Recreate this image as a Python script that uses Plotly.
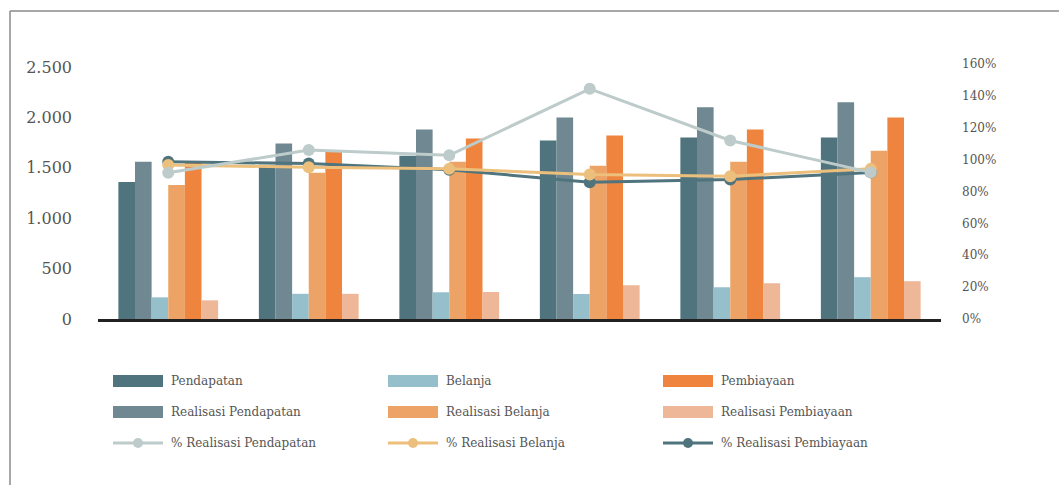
import plotly.graph_objects as go

# ---------------- data ----------------
categories = ["1", "2", "3", "4", "5", "6"]

pendapatan = [1360, 1530, 1620, 1770, 1800, 1800]
realisasi_pendapatan = [1560, 1740, 1880, 2000, 2100, 2150]
belanja = [215, 250, 265, 248, 315, 415]
realisasi_belanja = [1330, 1450, 1560, 1520, 1560, 1670]
pembiayaan = [1555, 1670, 1790, 1820, 1880, 2000]
realisasi_pembiayaan = [185, 250, 268, 335, 355, 375]

pct_real_pendapatan = [91.7, 106.0, 102.7, 144.4, 112.0, 92.0]
pct_real_belanja = [96.7, 95.2, 94.2, 90.6, 89.6, 94.2]
pct_real_pembiayaan = [98.7, 97.5, 93.7, 85.8, 87.5, 92.0]

left_ticks = [0, 500, 1000, 1500, 2000, 2500]
left_ticktext = ["0", "500", "1.000", "1.500", "2.000", "2.500"]
right_ticks = [0, 20, 40, 60, 80, 100, 120, 140, 160]
right_ticktext = ["0%", "20%", "40%", "60%", "80%", "100%", "120%", "140%", "160%"]

# ---------------- styles ----------------
C_PEND = "#4f747d"
C_RPEND = "#6f8891"
C_BEL = "#96bfcc"
C_RBEL = "#eca365"
C_PEMB = "#ee843d"
C_RPEMB = "#eeb798"
C_PCT_PEND = "#bdcccb"
C_PCT_BEL = "#ecbf7c"
C_PCT_PEMB = "#4f747d"

W, H = 1059, 485
ML, MR, MT, MB = 98, 118, 64, 166
PW = W - ML - MR
PH = H - MT - MB

FONT = "DejaVu Serif"
TXT = "#555555"


def px(x):
    return (x - ML) / PW


def py(y):
    return (H - MB - y) / PH


fig = go.Figure()

bar_series = [
    ("Pendapatan", pendapatan, C_PEND),
    ("Realisasi Pendapatan", realisasi_pendapatan, C_RPEND),
    ("Belanja", belanja, C_BEL),
    ("Realisasi Belanja", realisasi_belanja, C_RBEL),
    ("Pembiayaan", pembiayaan, C_PEMB),
    ("Realisasi Pembiayaan", realisasi_pembiayaan, C_RPEMB),
]
for name, vals, col in bar_series:
    fig.add_trace(go.Bar(x=categories, y=vals, name=name, marker=dict(color=col, line=dict(width=0)),
                         showlegend=False))

line_series = [
    ("% Realisasi Pembiayaan", pct_real_pembiayaan, C_PCT_PEMB),
    ("% Realisasi Belanja", pct_real_belanja, C_PCT_BEL),
    ("% Realisasi Pendapatan", pct_real_pendapatan, C_PCT_PEND),
]
for name, vals, col in line_series:
    fig.add_trace(go.Scatter(x=categories, y=vals, name=name, yaxis="y2", mode="lines+markers",
                             line=dict(color=col, width=3), marker=dict(color=col, size=12),
                             showlegend=False))

# ---------------- manual legend ----------------
shapes = []
annotations = []
col_x = [113, 388, 663]
row_y = [381, 412, 443]
legend_rows = [
    [("Pendapatan", C_PEND, "bar"), ("Belanja", C_BEL, "bar"), ("Pembiayaan", C_PEMB, "bar")],
    [("Realisasi Pendapatan", C_RPEND, "bar"), ("Realisasi Belanja", C_RBEL, "bar"),
     ("Realisasi Pembiayaan", C_RPEMB, "bar")],
    [("% Realisasi Pendapatan", C_PCT_PEND, "line"), ("% Realisasi Belanja", C_PCT_BEL, "line"),
     ("% Realisasi Pembiayaan", C_PCT_PEMB, "line")],
]
for r, row in enumerate(legend_rows):
    yc = row_y[r]
    for c, (label, col, kind) in enumerate(row):
        x0 = col_x[c]
        if kind == "bar":
            shapes.append(dict(type="rect", xref="paper", yref="paper",
                               x0=px(x0), x1=px(x0 + 50), y0=py(yc - 6), y1=py(yc + 6),
                               fillcolor=col, line=dict(width=0)))
        else:
            shapes.append(dict(type="line", xref="paper", yref="paper",
                               x0=px(x0), x1=px(x0 + 50), y0=py(yc), y1=py(yc),
                               line=dict(color=col, width=3)))
            shapes.append(dict(type="circle", xref="paper", yref="paper",
                               x0=px(x0 + 20), x1=px(x0 + 30), y0=py(yc - 5), y1=py(yc + 5),
                               fillcolor=col, line=dict(width=0)))
        annotations.append(dict(text=label, xref="paper", yref="paper", x=px(x0 + 56), y=py(yc),
                                xanchor="left", yanchor="middle", showarrow=False,
                                font=dict(family=FONT, size=12, color=TXT)))

# frame lines (top and left)
shapes.append(dict(type="line", xref="paper", yref="paper", x0=px(10), x1=px(W + 5), y0=py(11), y1=py(11),
                   line=dict(color="#8a8a8a", width=1.5)))
shapes.append(dict(type="line", xref="paper", yref="paper", x0=px(10), x1=px(10), y0=py(11), y1=py(H + 5),
                   line=dict(color="#8a8a8a", width=1.5)))

fig.update_layout(
    width=W, height=H,
    margin=dict(l=ML, r=MR, t=MT, b=MB, pad=0),
    paper_bgcolor="white", plot_bgcolor="white",
    barmode="group", bargap=0.29, bargroupgap=0,
    showlegend=False,
    shapes=shapes, annotations=annotations,
    xaxis=dict(type="category", showticklabels=False, showgrid=False, zeroline=False,
               showline=True, linecolor="#222222", linewidth=2.5, ticks=""),
    yaxis=dict(range=[0, 2530], tickvals=left_ticks, ticktext=left_ticktext, showgrid=False,
               zeroline=False, showline=False, ticks="", ticklabelstandoff=25,
               tickfont=dict(family=FONT, size=16, color=TXT)),
    yaxis2=dict(range=[0, 160], overlaying="y", side="right", tickvals=right_ticks,
                ticktext=right_ticktext, showgrid=False, zeroline=False, showline=False, ticks="",
                ticklabelstandoff=20, tickfont=dict(family=FONT, size=12, color=TXT)),
)

fig.write_html("out.html")
